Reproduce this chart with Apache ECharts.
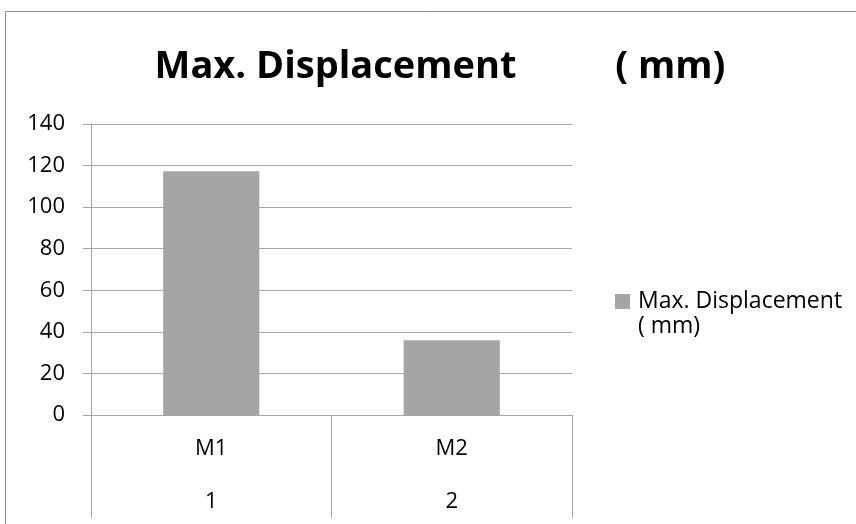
<!DOCTYPE html>
<html><head><meta charset="utf-8">
<script src="https://cdn.jsdelivr.net/npm/echarts@6/dist/echarts.min.js"></script>
<style>html,body{margin:0;padding:0;background:#fff}#c{width:856px;height:524px}</style>
</head><body><div id="c"></div>
<script>
const categories = ['M1', 'M2'];
const subCategories = ['1', '2'];
const seriesName = 'Max. Displacement ( mm)';
const values = [117.3, 36];
const yTicks = {min: 0, max: 140, interval: 20};

const FONT = '"Open Sans"';
const grey = '#a6a6a6';
const chart = echarts.init(document.getElementById('c'), null, {renderer: 'canvas'});
chart.setOption({
  animation: false,
  backgroundColor: '#fff',
  title: {
    text: 'Max. Displacement          ( mm)',
    left: 440, top: 48, textAlign: 'center', padding: 0,
    textStyle: {fontFamily: FONT, fontWeight: 'bold', fontSize: 38, color: '#000'}
  },
  legend: {
    left: 615, top: 290, padding: 0,
    itemWidth: 15, itemHeight: 15, itemGap: 0,
    icon: 'rect',
    formatter: () => 'Max. Displacement',
    textStyle: {fontFamily: FONT, fontSize: 23, color: '#000', padding: [0, 0, 0, 3]}
  },
  graphic: [
    {type: 'polyline', shape: {points: [[5.5, 524], [5.5, 11.5], [856, 11.5]]},
     style: {stroke: '#8c8c8c', lineWidth: 1, fill: null}, silent: true},
    {type: 'text', x: 638, y: 326,
     style: {text: '( mm)', fontFamily: FONT, fontSize: 23, fill: '#000', verticalAlign: 'middle'}}
  ],
  grid: {left: 91, right: 284, top: 124, bottom: 109, containLabel: false},
  xAxis: [
    {type: 'category', data: categories, position: 'bottom',
     axisLine: {lineStyle: {color: grey, width: 1}},
     axisTick: {show: true, length: 103, interval: 0, lineStyle: {color: grey}},
     axisLabel: {margin: 23, fontFamily: FONT, fontSize: 22, color: '#000'}},
    {type: 'category', data: subCategories, position: 'bottom', offset: 53,
     axisLine: {show: false}, axisTick: {show: false},
     axisLabel: {margin: 23, fontFamily: FONT, fontSize: 22, color: '#000'}}
  ],
  yAxis: {
    type: 'value', min: yTicks.min, max: yTicks.max, interval: yTicks.interval,
    axisLine: {show: true, lineStyle: {color: grey}},
    axisTick: {show: true, length: 8, lineStyle: {color: grey}},
    splitLine: {lineStyle: {color: grey, width: 1}},
    axisLabel: {margin: 26, fontFamily: FONT, fontSize: 22, color: '#000'}
  },
  series: [{
    name: seriesName, type: 'bar', data: values, xAxisIndex: 0,
    barCategoryGap: '60%',
    itemStyle: {color: '#a5a5a5'}
  }]
});
</script></body></html>
